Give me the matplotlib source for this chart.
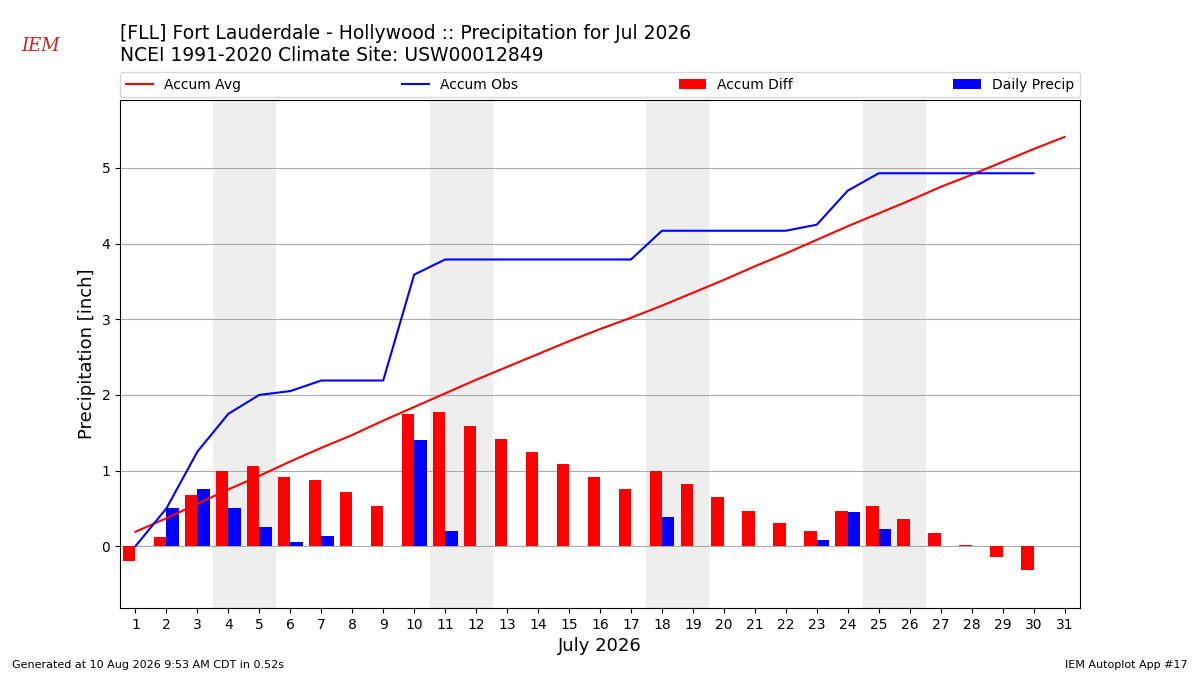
import numpy as np
import matplotlib
matplotlib.use("Agg")
import matplotlib.pyplot as plt

days = np.arange(1, 32)
accum_avg = [0.19, 0.37, 0.56, 0.75, 0.93, 1.12, 1.30, 1.47, 1.66, 1.84, 2.02, 2.20, 2.37, 2.54, 2.71,
             2.87, 3.02, 3.18, 3.35, 3.52, 3.70, 3.87, 4.05, 4.23, 4.40, 4.57, 4.75, 4.91, 5.08, 5.25, 5.41]
obs_days = np.arange(1, 31)
accum_obs = [0.0, 0.5, 1.25, 1.75, 2.0, 2.05, 2.19, 2.19, 2.19, 3.59, 3.79, 3.79, 3.79, 3.79, 3.79,
             3.79, 3.79, 4.17, 4.17, 4.17, 4.17, 4.17, 4.25, 4.70, 4.93, 4.93, 4.93, 4.93, 4.93, 4.93]
accum_diff = [-0.19, 0.12, 0.68, 0.99, 1.06, 0.92, 0.88, 0.71, 0.53, 1.75, 1.77, 1.59, 1.42, 1.25, 1.08,
              0.92, 0.76, 0.99, 0.82, 0.65, 0.47, 0.30, 0.20, 0.47, 0.53, 0.36, 0.18, 0.02, -0.15, -0.32]
daily = [0, 0.5, 0.75, 0.5, 0.25, 0.05, 0.14, 0, 0, 1.40, 0.2, 0, 0, 0, 0,
         0, 0, 0.38, 0, 0, 0, 0, 0.08, 0.45, 0.23, 0, 0, 0, 0, 0]
weekends = [4, 11, 18, 25]

fig = plt.figure(figsize=(12, 6.75), dpi=100)
ax = fig.add_axes([0.1, 0.099, 0.8, 0.753])
for w in weekends:
    ax.axvspan(w - 0.5, w + 1.5, color="#eeeeee", zorder=0)
ax.plot(days, accum_avg, color="r", label="Accum Avg", zorder=3)
ax.plot(obs_days, accum_obs, color="b", label="Accum Obs", zorder=3)
ax.bar(obs_days - 0.2, accum_diff, width=0.4, color="r", label="Accum Diff", zorder=2)
ax.bar(obs_days + 0.2, daily, width=0.4, color="b", label="Daily Precip", zorder=2)
ax.set_xlim(0.5, 31.5)
ax.set_ylim(-0.82, 5.9)
ax.set_xticks(days)
ax.set_yticks(range(6))
ax.grid(axis="y", color="#aaaaaa")
ax.set_axisbelow(True)
ax.set_ylabel("Precipitation [inch]", fontsize=13)
ax.set_xlabel("July 2026", fontsize=13)
ax.tick_params(labelsize=10)
ax.legend(loc="lower left", bbox_to_anchor=(0, 1.005, 1, 0.1), ncol=4, mode="expand",
          fontsize=10, borderaxespad=0)

fig.text(0.1, 0.965, "[FLL] Fort Lauderdale - Hollywood :: Precipitation for Jul 2026\n"
         "NCEI 1991-2020 Climate Site: USW00012849", fontsize=13.5, va="top")
fig.text(0.018, 0.925, "IEM", color="#cc2222", fontsize=13, style="italic", family="serif")
fig.text(0.01, 0.01, "Generated at 10 Aug 2026 9:53 AM CDT in 0.52s", fontsize=8)
fig.text(0.99, 0.01, "IEM Autoplot App #17", fontsize=8, ha="right")
fig.savefig("out.png")
